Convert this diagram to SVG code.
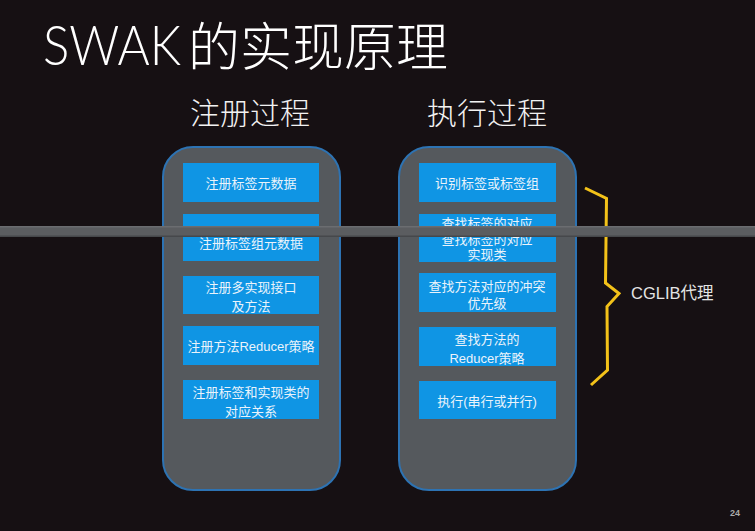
<svg xmlns="http://www.w3.org/2000/svg" width="755" height="531" viewBox="0 0 755 531">
<style>
.title{font-family:"Lato","Liberation Sans","Noto Sans CJK SC",sans-serif;font-weight:300;fill:#ffffff;}
.titlec{font-family:"Noto Sans CJK SC",sans-serif;font-weight:300;fill:#ffffff;}
.sub{font-family:"Noto Sans CJK SC",sans-serif;font-weight:300;font-size:30px;fill:#f2f2f2;text-anchor:middle;}
.panel{fill:#55595d;stroke:#2d73b3;stroke-width:2;}
.box{fill:#0f95e4;}
.bt{font-family:"Liberation Sans","Noto Sans CJK SC",sans-serif;font-size:13px;fill:#eaf3fb;text-anchor:middle;dominant-baseline:central;}
.brace{fill:none;stroke:#f3c219;stroke-width:3;stroke-linejoin:miter;}
</style>
<rect x="0" y="0" width="755" height="531" fill="#161013"/>
<g id="title">
<text class="title" x="43" y="65" font-size="56" textLength="138" lengthAdjust="spacingAndGlyphs">SWAK</text>
<text class="titlec" x="188" y="66" font-size="52">的实现原理</text>
</g>
<text class="sub" x="250" y="124">注册过程</text>
<text class="sub" x="487" y="124">执行过程</text>
<g id="panel-register"><rect class="panel" x="163" y="147" width="177" height="343" rx="30"/></g>
<g id="panel-exec"><rect class="panel" x="399" y="147" width="177" height="343" rx="30"/></g>
<g id="r1"><rect class="box" x="183" y="163" width="136" height="39"/><text class="bt" x="251" y="183">注册标签元数据</text></g>
<g id="r2"><rect class="box" x="183" y="214" width="136" height="47"/><text class="bt" x="251" y="243">注册标签组元数据</text></g>
<g id="r3"><rect class="box" x="183" y="276" width="136" height="38"/><text class="bt" x="251" y="287">注册多实现接口</text><text class="bt" x="251" y="306">及方法</text></g>
<g id="r4"><rect class="box" x="183" y="326" width="136" height="39"/><text class="bt" x="251" y="346">注册方法Reducer策略</text></g>
<g id="r5"><rect class="box" x="183" y="380" width="136" height="39"/><text class="bt" x="251" y="392">注册标签和实现类的</text><text class="bt" x="251" y="411">对应关系</text></g>
<g id="e1"><rect class="box" x="419" y="163" width="137" height="39"/><text class="bt" x="487" y="183">识别标签或标签组</text></g>
<g id="e2"><rect class="box" x="419" y="214" width="137" height="48"/><text class="bt" x="487" y="223">查找标签的对应</text><text class="bt" x="487" y="239">查找标签的对应</text><text class="bt" x="487" y="254">实现类</text></g>
<g id="e3"><rect class="box" x="419" y="273" width="137" height="39"/><text class="bt" x="487" y="286">查找方法对应的冲突</text><text class="bt" x="487" y="303">优先级</text></g>
<g id="e4"><rect class="box" x="419" y="327" width="137" height="39"/><text class="bt" x="487" y="339">查找方法的</text><text class="bt" x="487" y="358">Reducer策略</text></g>
<g id="e5"><rect class="box" x="419" y="381" width="137" height="38"/><text class="bt" x="487" y="401">执行(串行或并行)</text></g>
<g id="connectors">
<polyline class="brace" points="585,188 606.5,198.5 605.5,283 619,293.5 607,306.5 607.5,370 591,385"/>
</g>
<g id="cglib"><text x="631" y="299" font-family="Liberation Sans,'Noto Sans CJK SC',sans-serif" font-size="16.5" fill="#e4e4e4">CGLIB代理</text></g>
<rect x="0" y="226" width="755" height="11" fill="#5b5d60"/>
<rect x="0" y="226" width="755" height="1.5" fill="#6b6d70"/>
<rect x="0" y="235.5" width="755" height="1.5" fill="#46484b"/>
<text x="730" y="516" font-family="Liberation Sans,sans-serif" font-size="9" font-weight="bold" fill="#a9a9a9">24</text>
</svg>
